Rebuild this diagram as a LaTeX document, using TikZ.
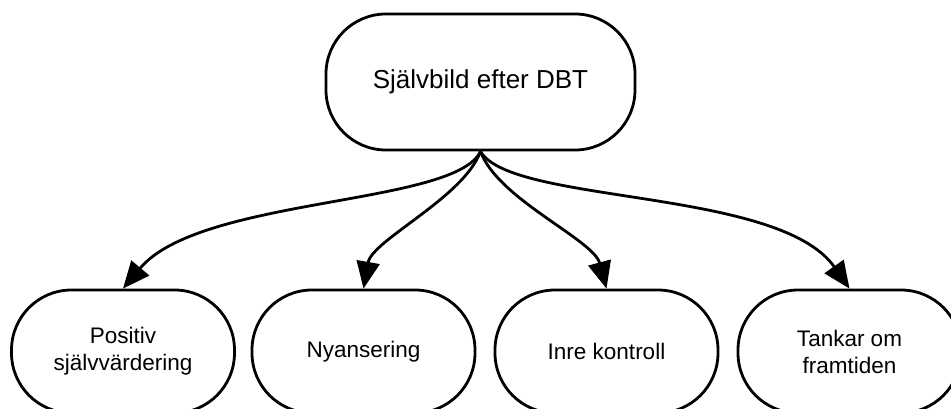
\documentclass[tikz,border=0pt]{standalone}
\usepackage{fontspec}
\setmainfont{Liberation Sans}
\usetikzlibrary{arrows.meta}

\begin{document}
\begin{tikzpicture}[x=1pt,y=1pt,
  box/.style={draw, line width=2.8pt, rounded corners=60pt, inner sep=0pt, align=center},
  topbox/.style={box, minimum width=309pt, minimum height=136pt, font=\fontsize{26}{31}\selectfont},
  subbox/.style={box, minimum width=223pt, minimum height=123pt, font=\fontsize{22.5}{27}\selectfont},
  link/.style={line width=2.8pt, -{Triangle[length=27pt,width=23pt]}}]
  \useasboundingbox (0,0) rectangle (951,-409);
  \clip (0,0) rectangle (951,-409);
  \node[topbox] (selfimage) at (480.5,-82) {Självbild efter DBT};
  \node[subbox] (positive) at (123,-351.5) {Positiv\\självvärdering};
  \node[subbox] (nuance) at (363.5,-351.5) {Nyansering};
  \node[subbox] (control) at (606.5,-351.5) {Inre kontroll};
  \node[subbox] (future) at (849.5,-351.5) {Tankar om\\framtiden};
  \draw[link] (selfimage.south) to[out=-115,in=50,out looseness=0.4,in looseness=0.8] (positive.north);
  \draw[link] (selfimage.south) to[out=-110,in=80,looseness=0.7] (nuance.north);
  \draw[link] (selfimage.south) to[out=-70,in=105,looseness=0.7] (control.north);
  \draw[link] (selfimage.south) to[out=-60,in=125,out looseness=0.4,in looseness=0.8] (future.north);
\end{tikzpicture}
\end{document}
